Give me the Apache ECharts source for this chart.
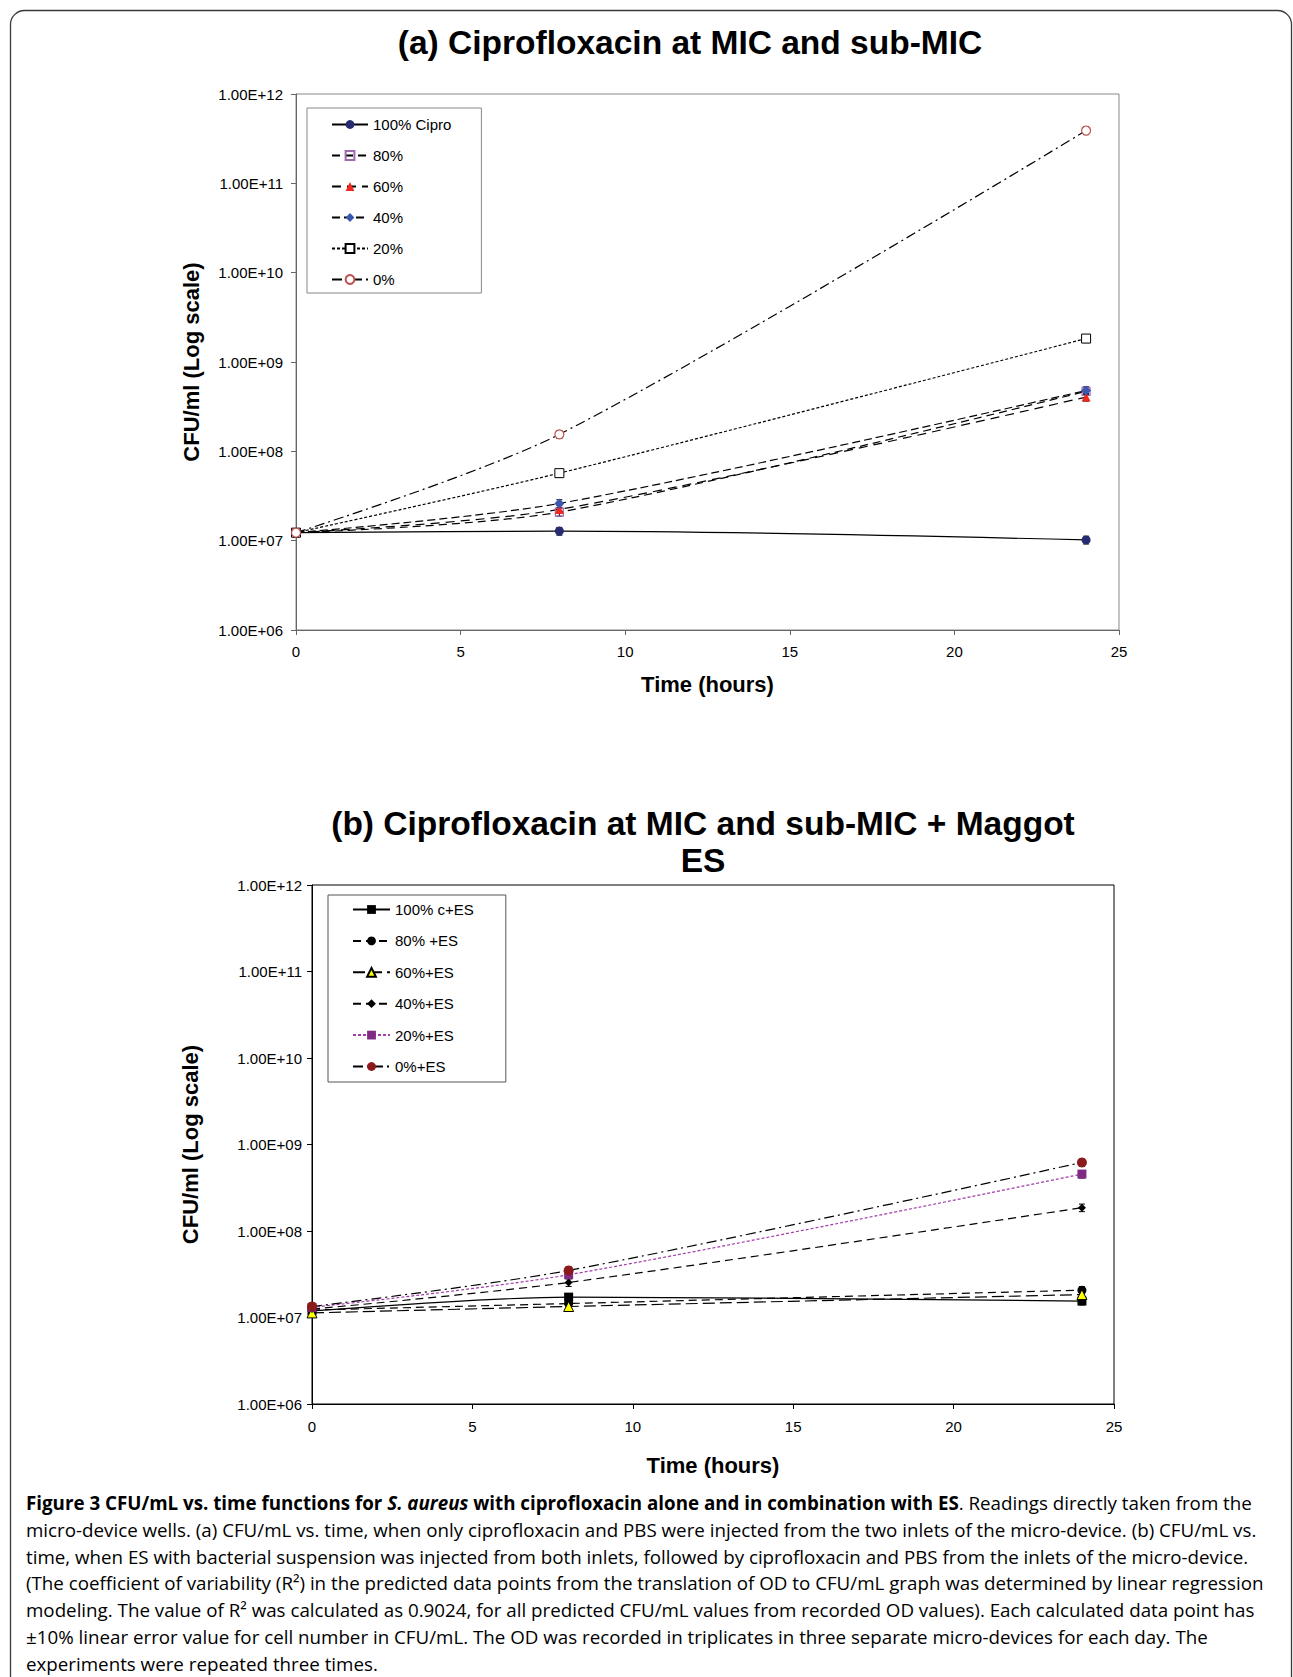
<!DOCTYPE html>
<html><head><meta charset="utf-8">
<script src="https://cdn.jsdelivr.net/npm/echarts@6/dist/echarts.min.js"></script>
<style>html,body{margin:0;padding:0;background:#fff;}#c{width:1293px;height:1677px;}</style>
</head><body><div id="c"></div>
<script>
// ---------- data ----------
const times = [0, 8, 24];
const xTicks = [0, 5, 10, 15, 20, 25];
const yTickLabels = ['1.00E+06','1.00E+07','1.00E+08','1.00E+09','1.00E+10','1.00E+11','1.00E+12'];

// Panel (a): ciprofloxacin alone
const namesA = ['100% Cipro', '80%', '60%', '40%', '20%', '0%'];
const cipro100 = [1.23e7, 1.28e7, 1.02e7];
const cipro80  = [1.23e7, 2.09e7, 4.7e8];
const cipro60  = [1.23e7, 2.24e7, 4.05e8];
const cipro40  = [1.23e7, 2.61e7, 4.8e8];
const cipro20  = [1.23e7, 5.7e7, 1.83e9];
const cipro0   = [1.23e7, 1.55e8, 3.9e11];

// Panel (b): ciprofloxacin + maggot ES
const namesB = ['100% c+ES', '80% +ES', '60%+ES', '40%+ES', '20%+ES', '0%+ES'];
const es100 = [1.19e7, 1.72e7, 1.55e7];
const es80  = [1.22e7, 1.45e7, 2.07e7];
const es60  = [1.13e7, 1.34e7, 1.84e7];
const es40  = [1.25e7, 2.54e7, 1.86e8];
const es20  = [1.31e7, 3.12e7, 4.55e8];
const es0   = [1.34e7, 3.5e7, 6.2e8];

const titleA = '(a) Ciprofloxacin at MIC and sub-MIC';
const titleB = '(b) Ciprofloxacin at MIC and sub-MIC + Maggot\nES';
const yName = 'CFU/ml (Log scale)';
const xName = 'Time (hours)';

const captionLines = [
  '{b|Figure 3 CFU/mL vs. time functions for }{bi|S. aureus}{b| with ciprofloxacin alone and in combination with ES}{n|. Readings directly taken from the}',
  '{n|micro-device wells. (a) CFU/mL vs. time, when only ciprofloxacin and PBS were injected from the two inlets of the micro-device. (b) CFU/mL vs.}',
  '{n|time, when ES with bacterial suspension was injected from both inlets, followed by ciprofloxacin and PBS from the inlets of the micro-device.}',
  '{n|(The coefficient of variability (R²) in the predicted data points from the translation of OD to CFU/mL graph was determined by linear regression}',
  '{n|modeling. The value of R² was calculated as 0.9024, for all predicted CFU/mL values from recorded OD values). Each calculated data point has}',
  '{n|±10% linear error value for cell number in CFU/mL. The OD was recorded in triplicates in three separate micro-devices for each day. The}',
  '{n|experiments were repeated three times.}'
];

// ---------- chart ----------
const FONT = 'Liberation Sans, Arial, sans-serif';
const CAPFONT = 'Open Sans, Lato, sans-serif';
const CAPSIZE = 18.75;
const chart = echarts.init(document.getElementById('c'), null, {renderer: 'svg', width: 1293, height: 1677});

function pts(arr) { return times.map((t, i) => [t, arr[i]]); }
function ln(name, arr, idx, symbol, size, itemStyle, lineStyle) {
  return {
    name, type: 'line', xAxisIndex: idx, yAxisIndex: idx, data: pts(arr),
    smooth: 0.3, symbol, symbolSize: size, showAllSymbols: true, z: 3,
    itemStyle: Object.assign({opacity: 1}, itemStyle),
    lineStyle: Object.assign({color: '#000', width: 1.2}, lineStyle),
    emphasis: {disabled: true}, animation: false
  };
}
function errBars(idx, arrs) {
  const data = [];
  arrs.forEach(a => a.forEach((v, i) => data.push([times[i], v])));
  return {
    type: 'custom', xAxisIndex: idx, yAxisIndex: idx, data, z: 2, silent: true,
    encode: {x: 0, y: 1}, animation: false,
    renderItem(params, api) {
      const t = api.value(0), v = api.value(1);
      const hi = api.coord([t, v * 1.1]), lo = api.coord([t, v * 0.9]);
      const x = hi[0];
      const st = {stroke: '#000', lineWidth: 1};
      return {type: 'group', children: [
        {type: 'line', shape: {x1: x, y1: hi[1], x2: x, y2: lo[1]}, style: st},
        {type: 'line', shape: {x1: x - 3, y1: hi[1], x2: x + 3, y2: hi[1]}, style: st},
        {type: 'line', shape: {x1: x - 3, y1: lo[1], x2: x + 3, y2: lo[1]}, style: st}
      ]};
    }
  };
}
function yLabel(v) {
  const i = Math.round(Math.log10(v)) - 6;
  return yTickLabels[i] !== undefined ? yTickLabels[i] : '';
}
function xAxisCfg(idx, axisColor, gap, margin) {
  return {
    type: 'value', gridIndex: idx, min: xTicks[0], max: xTicks[xTicks.length - 1], interval: 5,
    name: xName, nameLocation: 'middle', nameGap: gap,
    nameTextStyle: {fontFamily: FONT, fontSize: 22, fontWeight: 'bold', color: '#000'},
    axisLine: {show: true, lineStyle: {color: axisColor, width: 1}},
    axisTick: {show: true, length: 5, lineStyle: {color: axisColor}},
    axisLabel: {fontFamily: FONT, fontSize: 15, color: '#000', margin},
    splitLine: {show: false}
  };
}
function yAxisCfg(idx, axisColor, gap, margin) {
  return {
    type: 'log', logBase: 10, gridIndex: idx, min: 1e6, max: 1e12, interval: 1,
    name: yName, nameLocation: 'middle', nameGap: gap,
    nameTextStyle: {fontFamily: FONT, fontSize: 22, fontWeight: 'bold', color: '#000'},
    axisLine: {show: true, lineStyle: {color: axisColor, width: 1}},
    axisTick: {show: true, length: 5, lineStyle: {color: axisColor}},
    axisLabel: {fontFamily: FONT, fontSize: 15, color: '#000', margin, formatter: yLabel},
    splitLine: {show: false}, minorTick: {show: false}
  };
}

const seriesA = [
  ln(namesA[0], cipro100, 0, 'circle', 9, {color: '#262B72'}, {type: 'solid'}),
  ln(namesA[1], cipro80, 0, 'rect', 8, {color: 'rgba(255,255,255,0)', borderColor: '#A06AAE', borderWidth: 1.2}, {type: [8, 5]}),
  ln(namesA[2], cipro60, 0, 'triangle', 9, {color: '#F2281E'}, {type: [9, 6]}),
  ln(namesA[3], cipro40, 0, 'diamond', 10, {color: '#3B58AE'}, {type: [8, 4]}),
  ln(namesA[4], cipro20, 0, 'rect', 9, {color: '#fff', borderColor: '#000', borderWidth: 1}, {type: [3, 2]}),
  ln(namesA[5], cipro0, 0, 'circle', 9, {color: '#fff', borderColor: '#C0504D', borderWidth: 1.2}, {type: [10, 4, 2, 4]}),
  errBars(0, [cipro100, cipro80, cipro60, cipro40, cipro20, cipro0])
];
const seriesB = [
  ln(namesB[0], es100, 1, 'rect', 9, {color: '#000'}, {type: 'solid'}),
  ln(namesB[1], es80, 1, 'circle', 9, {color: '#000'}, {type: [8, 5]}),
  ln(namesB[2], es60, 1, 'triangle', 10, {color: '#FFFF00', borderColor: '#000', borderWidth: 1}, {type: [12, 5]}),
  ln(namesB[3], es40, 1, 'diamond', 8, {color: '#000'}, {type: [8, 5]}),
  ln(namesB[4], es20, 1, 'rect', 9, {color: '#7F2B84'}, {type: [3, 2], color: '#A33DAB'}),
  ln(namesB[5], es0, 1, 'circle', 10, {color: '#8B1A1A'}, {type: [10, 4, 2, 4]}),
  errBars(1, [es100, es80, es60, es40, es20, es0])
];

const graphics = [
  {type: 'rect', shape: {x: 10.5, y: 10.5, width: 1281, height: 1720, r: 14}, style: {fill: 'none', stroke: '#3a3a3a', lineWidth: 1.3}, silent: true},
  {type: 'text', x: 690, y: 42, style: {text: titleA, font: 'bold 33.5px ' + FONT, fill: '#000', textAlign: 'center', textVerticalAlign: 'middle'}},
  {type: 'text', x: 703, y: 842, style: {text: titleB, font: 'bold 33.5px ' + FONT, fill: '#000', textAlign: 'center', textVerticalAlign: 'middle', lineHeight: 37.5}}
];
const capRich = {
  b: {fontFamily: CAPFONT, fontSize: CAPSIZE, fontWeight: 'bold', color: '#1e1e1e'},
  bi: {fontFamily: CAPFONT, fontSize: CAPSIZE, fontWeight: 'bold', fontStyle: 'italic', color: '#1e1e1e'},
  n: {fontFamily: CAPFONT, fontSize: CAPSIZE, color: '#4a4a4a'}
};
captionLines.forEach((t, i) => {
  graphics.push({type: 'text', x: 26, y: 1502.6 + i * 26.74,
    style: {text: t, rich: capRich, textAlign: 'left', textVerticalAlign: 'middle'}});
});

chart.setOption({
  animation: false,
  backgroundColor: '#fff',
  grid: [
    {left: 296, top: 94, width: 823, height: 536, show: true, borderColor: '#888', borderWidth: 1, backgroundColor: 'transparent'},
    {left: 312, top: 885, width: 802, height: 519, show: true, borderColor: '#000', borderWidth: 1, backgroundColor: 'transparent'}
  ],
  xAxis: [xAxisCfg(0, '#666', 43, 14), xAxisCfg(1, '#000', 50, 15)],
  yAxis: [yAxisCfg(0, '#666', 94, 13), yAxisCfg(1, '#000', 111, 10)],
  legend: [
    {data: namesA, orient: 'vertical', left: 307, top: 108, padding: [9, 30, 6, 24], itemGap: 16,
     itemWidth: 36, itemHeight: 11, borderColor: '#888', borderWidth: 1, backgroundColor: '#fff',
     textStyle: {fontFamily: FONT, fontSize: 15, color: '#000'}, selectedMode: false},
    {data: namesB, orient: 'vertical', left: 328, top: 895, padding: [7, 32, 8, 24], itemGap: 16.4,
     itemWidth: 37, itemHeight: 11, borderColor: '#555', borderWidth: 1, backgroundColor: '#fff',
     textStyle: {fontFamily: FONT, fontSize: 15, color: '#000'}, selectedMode: false}
  ],
  series: seriesA.concat(seriesB),
  graphic: graphics
});
</script></body></html>
